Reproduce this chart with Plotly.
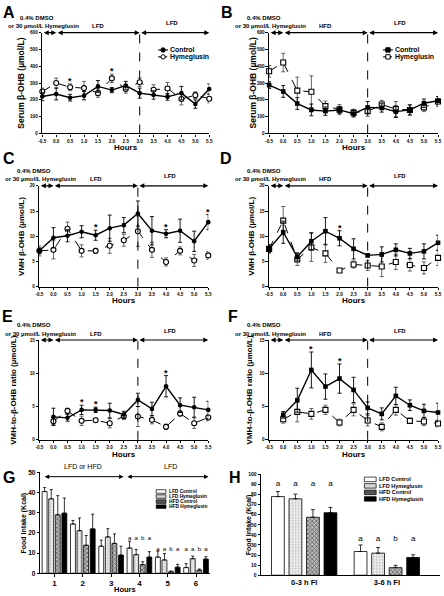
import plotly.graph_objects as go

FONT = "Liberation Sans, Arial, sans-serif"
W, H = 444, 596

# ---------------- data ----------------
hours = [-0.5, 0.0, 0.5, 1.0, 1.5, 2.0, 2.5, 3.0, 3.5, 4.0, 4.5, 5.0, 5.5]
hours_ratio = [0.0, 0.5, 1.0, 1.5, 2.0, 2.5, 3.0, 3.5, 4.0, 4.5, 5.0, 5.5]
x_tick_labels = ["-0.5", "0.0", "0.5", "1.0", "1.5", "2.0", "2.5", "3.0", "3.5", "4.0", "4.5", "5.0", "5.5"]

A_ctrl = [220, 235, 213, 225, 280, 258, 285, 240, 229, 218, 240, 175, 265]
A_ctrl_err = [25, 35, 20, 25, 35, 15, 25, 30, 25, 20, 40, 25, 30]
A_hym = [250, 300, 275, 270, 240, 328, 265, 305, 260, 268, 205, 228, 207]
A_hym_err = [20, 30, 20, 40, 25, 25, 25, 25, 30, 35, 35, 20, 25]
A_stars = [0.5, 2.0]

B_ctrl = [288, 250, 178, 140, 133, 140, 118, 155, 152, 130, 140, 180, 195]
B_ctrl_err = [20, 35, 35, 35, 25, 20, 20, 35, 25, 35, 30, 25, 25]
B_hym = [370, 422, 255, 248, 163, 142, 124, 132, 172, 145, 140, 155, 190]
B_hym_err = [35, 55, 80, 95, 30, 30, 20, 30, 25, 45, 30, 25, 30]
B_stars = []

C_ctrl = [7.1, 9.7, 10.1, 10.9, 10.2, 11.6, 12.2, 14.5, 11.1, 10.5, 11.1, 9.0, 12.8]
C_ctrl_err = [0.6, 2.0, 1.2, 1.2, 1.0, 2.6, 1.5, 2.5, 2.8, 0.8, 2.3, 2.0, 1.5]
C_hym = [7.1, 7.3, 11.5, 7.1, 7.1, 8.1, 9.2, 11.0, 7.3, 4.9, 7.1, 5.2, 6.2]
C_hym_err = [1.0, 1.8, 1.3, 1.2, 0.5, 1.5, 1.2, 3.0, 1.5, 0.8, 0.8, 1.2, 0.8]
C_stars = [1.5, 4.0, 5.5]

D_ctrl = [7.5, 10.8, 5.9, 9.0, 11.0, 9.6, 7.5, 6.2, 6.4, 7.3, 6.6, 7.0, 8.7]
D_ctrl_err = [0.8, 2.2, 0.8, 1.7, 2.7, 1.5, 2.0, 0.3, 1.5, 1.2, 1.0, 1.5, 1.5]
D_hym = [7.5, 13.1, 5.4, 7.8, 6.6, 3.2, 4.4, 4.2, 4.0, 4.9, 4.3, 3.7, 5.7]
D_hym_err = [0.8, 2.8, 1.2, 2.8, 1.8, 0.3, 0.7, 1.0, 2.0, 1.5, 1.2, 1.2, 1.5]
D_stars = [2.0]

E_ctrl = [3.45, 3.3, 4.5, 4.5, 4.4, 3.8, 6.0, 4.65, 8.05, 5.2, 4.9, 4.5]
E_ctrl_err = [1.3, 0.5, 0.7, 0.4, 1.1, 0.5, 1.0, 1.0, 1.6, 1.1, 1.5, 1.3]
E_hym = [2.8, 4.35, 2.85, 2.95, 2.5, 3.55, 3.5, 3.0, 1.95, 3.95, 2.5, 3.35]
E_hym_err = [0.5, 0.4, 0.7, 0.3, 0.7, 0.5, 1.5, 0.6, 0.4, 0.4, 0.8, 0.5]
E_stars = [1.0, 1.5, 4.0]

F_ctrl = [3.75, 5.95, 10.5, 8.0, 9.2, 7.5, 4.8, 3.9, 6.6, 5.2, 4.35, 4.1]
F_ctrl_err = [0.5, 1.8, 2.7, 1.9, 2.2, 1.9, 0.9, 0.9, 1.3, 0.8, 1.0, 1.4]
F_hym = [3.1, 4.2, 3.9, 4.5, 2.6, 4.5, 2.9, 1.95, 4.5, 2.85, 2.75, 2.45]
F_hym_err = [0.6, 1.5, 0.8, 0.7, 0.5, 0.9, 0.8, 0.6, 0.8, 0.4, 0.6, 0.5]
F_stars = [1.0, 2.0]

bar_series = ["LFD Control", "LFD Hymeglusin", "HFD Control", "HFD Hymeglusin"]

G_hours = [1, 2, 3, 4, 5, 6]
G_lfd_ctrl = [40.5, 24.4, 13.4, 12.5, 8.0, 2.8]
G_lfd_ctrl_err = [2.0, 1.8, 3.0, 3.4, 3.0, 2.0]
G_lfd_hym = [36.9, 21.1, 18.0, 9.2, 6.6, 7.2]
G_lfd_hym_err = [4.6, 6.3, 4.1, 2.6, 3.2, 1.3]
G_hfd_ctrl = [29.0, 13.9, 14.8, 4.3, 0.7, 1.5]
G_hfd_ctrl_err = [9.5, 4.8, 4.7, 1.4, 0.4, 0.6]
G_hfd_hym = [29.8, 22.0, 9.0, 8.0, 3.0, 7.0]
G_hfd_hym_err = [7.5, 7.3, 4.4, 2.7, 1.4, 1.2]
G_letter_groups = [4, 5, 6]
G_letter_heights = [17.0, 11.8, 11.8]
G_letters = ["a", "a", "b", "a"]

H_periods = ["0-3 h FI", "3-6 h FI"]
H_lfd_ctrl = [78.0, 23.5]
H_lfd_ctrl_err = [5.0, 6.5]
H_lfd_hym = [75.8, 21.9]
H_lfd_hym_err = [4.6, 5.6]
H_hfd_ctrl = [57.5, 7.5]
H_hfd_ctrl_err = [7.5, 2.3]
H_hfd_hym = [62.0, 17.6]
H_hfd_hym_err = [5.3, 2.7]
H_letter_heights = [90.8, 36.0]
H_letters = [["a", "a", "a", "a"], ["a", "a", "b", "a"]]

# ---------------- helpers ----------------
fig = go.Figure()
annotations = []
shapes = []
layout = dict(width=W, height=H, margin=dict(l=0, r=0, t=0, b=0),
              paper_bgcolor="white", plot_bgcolor="white", showlegend=False,
              barmode="overlay", font=dict(family=FONT, color="black"))


def fx(px):
    return px / W


def fy(py):
    return 1 - py / H


def bfont(size, bold=True):
    return dict(family=FONT, size=size, color="black", weight="bold" if bold else "normal")


def paper_text(text, x, y, size, bold=True, xanchor="center", yanchor="middle", angle=0):
    annotations.append(dict(text=text, x=fx(x), y=fy(y), xref="paper", yref="paper",
                            showarrow=False, xanchor=xanchor, yanchor=yanchor,
                            textangle=angle, borderpad=0, font=bfont(size, bold)))


def hz_arrow(xr, yr, x0, x1, y, width=1.1):
    annotations.append(dict(x=x1, y=y, ax=x0, ay=y, xref=xr, yref=yr, axref=xr, ayref=yr,
                            text="", showarrow=True, arrowhead=2, arrowside="end+start",
                            arrowsize=0.9, arrowwidth=width, arrowcolor="black",
                            standoff=0, startstandoff=0))


AX = dict(showline=True, linecolor="black", linewidth=1.3, ticks="outside", ticklen=2.5,
          tickwidth=1, tickcolor="black", showgrid=False, zeroline=False, fixedrange=True)


def add_line_panel(n, xd, yd, yrange, ydtick, x, ctrl, ctrl_err, hym, hym_err, stars,
                   sym, diet1, ytitle, ytitle_x, letter, letter_pos):
    s = "" if n == 1 else str(n)
    xa, ya = "x" + s, "y" + s
    layout["xaxis" + s] = dict(domain=[fx(xd[0]), fx(xd[1])], range=[-0.5, 5.5], anchor=ya,
                               tickvals=hours, ticktext=x_tick_labels,
                               tickfont=bfont(4.6), **AX)
    layout["yaxis" + s] = dict(domain=[fy(yd[1]), fy(yd[0])], range=yrange, anchor=xa,
                               tick0=0, dtick=ydtick, tickfont=bfont(4.6), **AX)
    fig.add_trace(go.Scatter(
        x=x, y=hym, mode="lines+markers", xaxis=xa, yaxis=ya, cliponaxis=False,
        line=dict(color="black", width=1, dash="dash"),
        marker=dict(symbol=sym, size=5, color="white", line=dict(color="black", width=1.1)),
        error_y=dict(type="data", array=hym_err, color="#555", thickness=0.9, width=2)))
    fig.add_trace(go.Scatter(
        x=x, y=ctrl, mode="lines+markers", xaxis=xa, yaxis=ya, cliponaxis=False,
        line=dict(color="black", width=1.4),
        marker=dict(symbol=sym, size=4.6, color="black"),
        error_y=dict(type="data", array=ctrl_err, color="black", thickness=0.9, width=2)))
    shapes.append(dict(type="line", xref=xa, yref=ya + " domain", x0=3, x1=3, y0=0, y1=1,
                       line=dict(color="black", width=1, dash="dash")))
    ymax = yrange[1]
    hz_arrow(xa, ya, -0.5, 0.0, ymax)
    hz_arrow(xa, ya, 0.0, 3.0, ymax)
    hz_arrow(xa, ya, 3.0, 5.5, ymax)
    L, R, T, Bt = xd[0], xd[1], yd[0], yd[1]

    def dpx(v):
        return L + (v + 0.5) / 6 * (R - L)

    paper_text("0.4% DMSO", L - 5, T - 15, 6)
    paper_text("or 30 \u00b5mol/L Hymeglusin", dpx(0.85), T - 6.5, 6, xanchor="right")
    paper_text(diet1, dpx(1.5), T - 6.5, 6)
    paper_text("LFD", dpx(4.15), T - 9.5, 6)
    for sx in stars:
        i = x.index(sx)
        top = max(ctrl[i] + ctrl_err[i], hym[i] + hym_err[i])
        annotations.append(dict(text="*", x=sx, y=top, xref=xa, yref=ya, showarrow=False,
                                yanchor="bottom", yshift=-4, font=bfont(9)))
    paper_text("Hours", (L + R) / 2, Bt + 14.5, 8)
    paper_text(ytitle, ytitle_x, (T + Bt) / 2, 8.5 if n <= 2 else 8, angle=-90)
    paper_text(letter, letter_pos[0], letter_pos[1], 16)


add_line_panel(1, (39, 209), (29, 131), [0, 600], 100, hours, A_ctrl, A_ctrl_err, A_hym, A_hym_err,
               A_stars, "circle", "LFD", "Serum \u03b2-OHB (\u00b5mol/L)", 17, "A", (5, 9))
add_line_panel(2, (270, 442), (29, 131), [0, 600], 100, hours, B_ctrl, B_ctrl_err, B_hym, B_hym_err,
               B_stars, "square", "HFD", "Serum \u03b2-OHB (\u00b5mol/L)", 254, "B", (227, 9))
add_line_panel(3, (36, 208), (184, 286), [0, 20], 5, hours, C_ctrl, C_ctrl_err, C_hym, C_hym_err,
               C_stars, "circle", "LFD", "VMH \u03b2-OHB (\u00b5mol/L)", 18, "C", (5, 156))
add_line_panel(4, (270, 442), (184, 286), [0, 20], 5, hours, D_ctrl, D_ctrl_err, D_hym, D_hym_err,
               D_stars, "square", "HFD", "VMH \u03b2-OHB (\u00b5mol/L)", 252, "D", (226, 156))
add_line_panel(5, (36, 208), (340, 441), [0, 15], 5, hours_ratio, E_ctrl, E_ctrl_err, E_hym, E_hym_err,
               E_stars, "circle", "LFD", "VMH-to-\u03b2-OHB ratio (\u00b5mol/L)", 10, "E", (4, 316))
add_line_panel(6, (270, 442), (340, 441), [0, 15], 5, hours_ratio, F_ctrl, F_ctrl_err, F_hym, F_hym_err,
               F_stars, "square", "HFD", "VMH-to-\u03b2-OHB ratio (\u00b5mol/L)", 250, "F", (233, 316))

# legends for A and B (drawn manually, compact)
for (mx, ty, sym) in [(162, 46.5, "circle"), (391, 46.5, "square")]:
    for k, (lbl, fill, dash) in enumerate([("Control", "black", "solid"), ("Hymeglusin", "white", "dash")]):
        yy = ty + k * 7
        shapes.append(dict(type="line", xref="paper", yref="paper", x0=fx(mx - 5), x1=fx(mx + 5),
                           y0=fy(yy), y1=fy(yy), line=dict(color="black", width=1.1, dash=dash)))
        shapes.append(dict(type="circle" if sym == "circle" else "rect", xref="paper", yref="paper",
                           x0=fx(mx - 2.2), x1=fx(mx + 2.2), y0=fy(yy + 2.2), y1=fy(yy - 2.2),
                           fillcolor=fill, line=dict(color="black", width=1)))
        paper_text(lbl, mx + 6, yy, 6.9, xanchor="left")

# ---------------- bar panels ----------------
BAR_MARKERS = [
    dict(color="white", line=dict(color="black", width=0.8)),
    dict(color="white", line=dict(color="black", width=0.8),
         pattern=dict(shape=".", fgcolor="#777", bgcolor="white", size=3, solidity=0.45)),
    dict(color="#444", line=dict(color="black", width=0.8),
         pattern=dict(shape="x", fgcolor="black", bgcolor="#bbb", size=3, solidity=0.45)),
    dict(color="black", line=dict(color="black", width=0.8)),
]
SWATCH_FILL = ["white", "#d4d4d4", "#555", "black"]

# G
G_vals = [G_lfd_ctrl, G_lfd_hym, G_hfd_ctrl, G_hfd_hym]
G_errs = [G_lfd_ctrl_err, G_lfd_hym_err, G_hfd_ctrl_err, G_hfd_hym_err]
G_pitch, G_width = 0.2325, 0.174
layout["xaxis7"] = dict(domain=[fx(37), fx(210)], range=[0.5, 6.5], anchor="y7",
                        tickvals=G_hours, ticktext=[str(h) for h in G_hours],
                        tickfont=bfont(8), **AX)
layout["yaxis7"] = dict(domain=[fy(576), fy(474)], range=[0, 50], anchor="x7", tick0=0, dtick=10,
                        tickfont=bfont(6.5), **AX)
for i in range(4):
    fig.add_trace(go.Bar(x=G_hours, y=G_vals[i], xaxis="x7", yaxis="y7", name=bar_series[i],
                         width=G_width, offset=(i - 1.5) * G_pitch - G_width / 2,
                         marker=BAR_MARKERS[i],
                         error_y=dict(type="data", array=G_errs[i], arrayminus=[0] * 6,
                                      symmetric=False, color="black", thickness=0.8, width=1.5)))
for g, hgt in zip(G_letter_groups, G_letter_heights):
    fig.add_trace(go.Scatter(x=[g + (i - 1.5) * G_pitch for i in range(4)], y=[hgt] * 4,
                             mode="text", text=G_letters, textfont=bfont(6, False),
                             xaxis="x7", yaxis="y7", cliponaxis=False))
hz_arrow("x7", "y7", 0.6, 3.44, 47.9, 1.0)
hz_arrow("x7", "y7", 3.52, 6.44, 47.9, 1.0)
annotations.append(dict(text="LFD or HFD", x=2.0, y=fy(473.5), xref="x7", yref="paper",
                        showarrow=False, font=bfont(7, False)))
annotations.append(dict(text="LFD", x=5.1, y=fy(473.5), xref="x7", yref="paper",
                        showarrow=False, font=bfont(7, False)))
paper_text("Hours", 123.5, 592.5, 7.5)
paper_text("Food Intake (Kcal)", 20, 525, 7, angle=-90)
paper_text("G", 5, 479, 16)
for k in range(4):
    yy = 493.3 + 5.1 * k
    shapes.append(dict(type="rect", xref="paper", yref="paper", x0=fx(155), x1=fx(165),
                       y0=fy(yy + 1.8), y1=fy(yy - 1.8), fillcolor=SWATCH_FILL[k],
                       line=dict(color="black", width=0.7)))
    paper_text(bar_series[k], 166.5, yy, 4.8, xanchor="left")

# H
H_vals = [H_lfd_ctrl, H_lfd_hym, H_hfd_ctrl, H_hfd_hym]
H_errs = [H_lfd_ctrl_err, H_lfd_hym_err, H_hfd_ctrl_err, H_hfd_hym_err]
H_x = [0, 1]
H_pitch, H_width = 0.212, 0.155
layout["xaxis8"] = dict(domain=[fx(262), fx(444)], range=[-0.519, 1.643], anchor="y8",
                        tickvals=H_x, ticktext=H_periods, tickfont=bfont(7.5),
                        **{**AX, "ticks": ""})
layout["yaxis8"] = dict(domain=[fy(578), fy(476)], range=[0, 100], anchor="x8", tick0=0, dtick=10,
                        tickfont=bfont(5), **AX)
for i in range(4):
    fig.add_trace(go.Bar(x=H_x, y=H_vals[i], xaxis="x8", yaxis="y8", name=bar_series[i],
                         width=H_width, offset=(i - 1.5) * H_pitch - H_width / 2,
                         marker=BAR_MARKERS[i],
                         error_y=dict(type="data", array=H_errs[i], arrayminus=[0] * 2,
                                      symmetric=False, color="black", thickness=0.8, width=2)))
for g, hgt, lets in zip(H_x, H_letter_heights, H_letters):
    fig.add_trace(go.Scatter(x=[g + (i - 1.5) * H_pitch for i in range(4)], y=[hgt] * 4,
                             mode="text", text=lets, textfont=bfont(8, False),
                             xaxis="x8", yaxis="y8", cliponaxis=False))
paper_text("Food Intake (Kcal)", 249, 527, 7, angle=-90)
paper_text("H", 235, 479, 16)
for k in range(4):
    yy = 481 + 6.6 * k
    shapes.append(dict(type="rect", xref="paper", yref="paper", x0=fx(367), x1=fx(379),
                       y0=fy(yy + 2.3), y1=fy(yy - 2.3), fillcolor=SWATCH_FILL[k],
                       line=dict(color="black", width=0.7)))
    paper_text(bar_series[k], 381, yy, 5.5, xanchor="left")

layout["annotations"] = annotations
layout["shapes"] = shapes
fig.update_layout(**layout)
fig.write_html("out.html", config={"displayModeBar": False},
               post_script="document.body.style.margin='0px';")
